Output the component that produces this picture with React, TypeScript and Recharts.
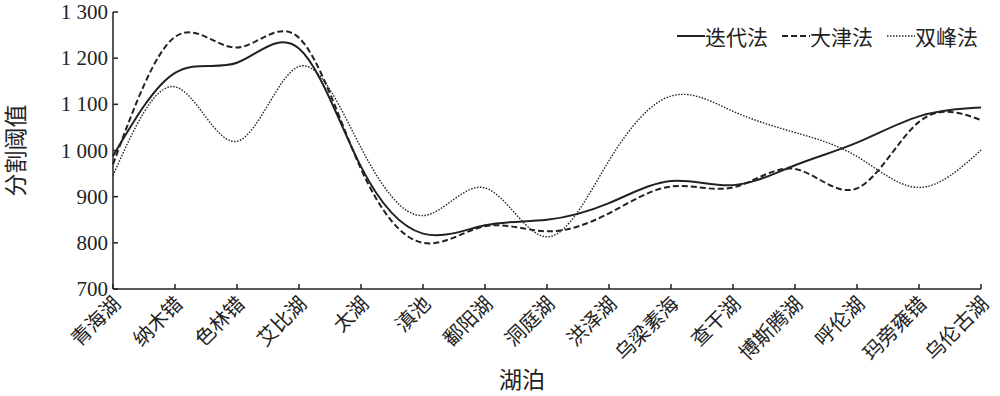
import { LineChart, Line, XAxis, YAxis, Label } from "recharts";

const lakes = [
  "青海湖", "纳木错", "色林错", "艾比湖", "太湖", "滇池", "鄱阳湖", "洞庭湖",
  "洪泽湖", "乌梁素海", "查干湖", "博斯腾湖", "呼伦湖", "玛旁雍错", "乌伦古湖",
];
const iterative = [988, 1168, 1190, 1221, 965, 820, 838, 850, 886, 934, 925, 968, 1017, 1074, 1093];
const otsu = [970, 1246, 1223, 1244, 960, 800, 836, 825, 864, 922, 920, 960, 918, 1062, 1066];
const bimodal = [946, 1138, 1020, 1182, 1006, 859, 919, 813, 978, 1118, 1085, 1039, 987, 920, 1001];
const yTicks = [700, 800, 900, 1000, 1100, 1200, 1300];

const data = lakes.map((name, i) => ({
  name,
  iterative: iterative[i],
  otsu: otsu[i],
  bimodal: bimodal[i],
}));

const FONT = "'Liberation Serif', 'Noto Sans CJK SC', serif";

const series = [
  { key: "iterative", label: "迭代法", dash: undefined, width: 2 },
  { key: "otsu", label: "大津法", dash: "6 3", width: 2 },
  { key: "bimodal", label: "双峰法", dash: "1.5 1.5", width: 1.4 },
];

function fmt(v: number) {
  if (v < 1000) return String(v);
  return `${Math.floor(v / 1000)} ${String(v % 1000).padStart(3, "0")}`;
}

function XTick(props: any) {
  const { x, y, payload } = props;
  return (
    <g>
      <line x1={x} x2={x} y1={y} y2={y - 5} stroke="#222" strokeWidth={1.5} />
      <text
        x={x + 9}
        y={y + 16}
        textAnchor="end"
        transform={`rotate(-45, ${x + 9}, ${y + 16})`}
        fontSize={20}
        fontFamily={FONT}
        fill="#222"
      >
        {payload.value}
      </text>
    </g>
  );
}

function YTick(props: any) {
  const { x, y, payload } = props;
  return (
    <g>
      <line x1={x + 5} x2={x + 10} y1={y} y2={y} stroke="#222" strokeWidth={1.5} />
      <text x={x} y={y + 7} textAnchor="end" fontSize={21} fontFamily={FONT} fill="#222">
        {fmt(payload.value)}
      </text>
    </g>
  );
}

// legend sits over the chart, top right, so it takes no room from the plot
function LegendBox() {
  return (
    <div
      style={{
        position: "absolute", left: 677, top: 21,
        display: "flex", alignItems: "center", fontFamily: FONT, fontSize: 21, color: "#222",
      }}
    >
      {series.map((s) => (
        <div key={s.key} style={{ display: "flex", alignItems: "center", marginRight: 14 }}>
          <svg width={28} height={10}>
            <line x1={0} x2={28} y1={5} y2={5} stroke="#222" strokeWidth={s.width} strokeDasharray={s.dash} />
          </svg>
          <span>{s.label}</span>
        </div>
      ))}
    </div>
  );
}

export default function App() {
  return (
    <div style={{ position: "absolute", left: 0, top: 0, width: 1000, height: 396, background: "#fff" }}>
      <LineChart width={1000} height={396} data={data} margin={{ top: 12, right: 19, bottom: 27, left: 0 }}>
        <XAxis
          dataKey="name"
          interval={0}
          tickSize={0}
          tickMargin={0}
          tick={<XTick />}
          height={80}
          stroke="#222"
          strokeWidth={1.5}
        >
          <Label
            content={() => (
              <text x={522} y={388} textAnchor="middle" fontSize={23} fontFamily={FONT} fill="#222">
                湖泊
              </text>
            )}
          />
        </XAxis>
        <YAxis
          domain={[700, 1300]}
          ticks={yTicks}
          interval={0}
          width={113}
          tickSize={0}
          tickMargin={5}
          tick={<YTick />}
          stroke="#222"
          strokeWidth={1.5}
        >
          <Label
            value="分割阈值"
            angle={-90}
            position="insideLeft"
            offset={16}
            style={{ textAnchor: "middle", fontSize: 23, fontFamily: FONT, fill: "#222" }}
          />
        </YAxis>
        {series.map((s) => (
          <Line
            key={s.key}
            type="natural"
            dataKey={s.key}
            name={s.label}
            stroke="#222"
            strokeWidth={s.width}
            strokeDasharray={s.dash}
            dot={false}
            activeDot={false}
            isAnimationActive={false}
          />
        ))}
      </LineChart>
      <LegendBox />
    </div>
  );
}
